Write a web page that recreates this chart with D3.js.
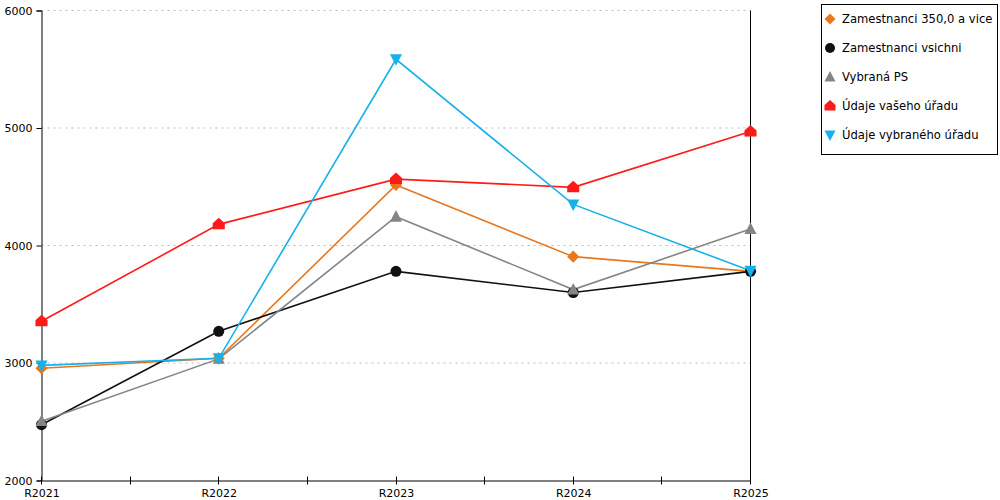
<!DOCTYPE html>
<html><head><meta charset="utf-8">
<script src="https://cdn.jsdelivr.net/npm/d3@7"></script>
<style>
body{margin:0;background:#fff;}
text{font-family:"DejaVu Sans",Verdana,sans-serif;font-size:11px;fill:#000;}
</style></head>
<body><svg id="c" width="1000" height="500"></svg>
<script>
const categories = ["R2021","R2022","R2023","R2024","R2025"];
const yTicks = [2000,3000,4000,5000,6000];
const seriesNames = ["Zamestnanci 350,0 a vice","Zamestnanci vsichni","Vybraná PS","Údaje vašeho úřadu","Údaje vybraného úřadu"];
const zam350 = [2955, 3040, 4515, 3905, 3780];
const zamVsichni = [2475, 3270, 3780, 3600, 3780];
const vybranaPS = [2505, 3035, 4245, 3625, 4140];
const vasUrad = [3355, 4180, 4565, 4495, 4970];
const vybranyUrad = [2980, 3040, 5585, 4350, 3785];
const colors = ["#e8771e","#111111","#858585","#ff1a1a","#16b1ea"];
const symbols = ["diamond","circle","triangle","house","triangleDown"];

const allSeries = [zam350, zamVsichni, vybranaPS, vasUrad, vybranyUrad];
const svg = d3.select("#c");
const L = 41.5, R = 750.5, T = 10.5, B = 480.5;
const x = d3.scalePoint().domain(categories).range([L, R]);
const y = d3.scaleLinear().domain([2000, 6000]).range([B, T]);

// grid
svg.append("g").selectAll("line").data(yTicks.filter(d => d > 2000)).join("line")
  .attr("x1", L).attr("x2", R).attr("y1", d => y(d)).attr("y2", d => y(d))
  .attr("stroke", "#bbb").attr("stroke-dasharray", "2,4").attr("stroke-width", 1);

// y axis
const yAxis = d3.axisLeft(y).tickValues(yTicks).tickSize(5).tickPadding(4).tickFormat(d3.format("d"));
const gy = svg.append("g").attr("transform", `translate(${L},0)`).call(yAxis);
gy.select(".domain").attr("stroke", "#000");
gy.selectAll("text").style("font-family", "DejaVu Sans").style("font-size", "11px");

// right line
svg.append("line").attr("x1", R).attr("x2", R).attr("y1", T).attr("y2", B).attr("stroke", "#000");

// x axis
const xAxis = d3.axisBottom(x).tickSize(0).tickPadding(9);
const gx = svg.append("g").attr("transform", `translate(0,${B})`).call(xAxis);
gx.select(".domain").attr("stroke", "#000");
gx.selectAll("text").style("font-family", "DejaVu Sans").style("font-size", "11px");
// ticks at categories and between, crossing the axis
const step = x.step();
const tickPos = [];
categories.forEach((c, i) => { tickPos.push(x(c)); if (i < categories.length - 1) tickPos.push(x(c) + step / 2); });
svg.append("g").selectAll("line").data(tickPos).join("line")
  .attr("x1", d => Math.round(d - 0.5) + 0.5).attr("x2", d => Math.round(d - 0.5) + 0.5)
  .attr("y1", B - 4).attr("y2", B + 4).attr("stroke", "#000");

function marker(g, type, color, s) {
  if (type === "circle") g.append("circle").attr("r", s * 0.5).attr("fill", color);
  else if (type === "diamond") g.append("path").attr("d", `M0,${-s*0.55}L${s*0.55},0L0,${s*0.55}L${-s*0.55},0Z`).attr("fill", color);
  else if (type === "triangle") g.append("path").attr("d", `M0,${-s*0.6}L${s*0.55},${s*0.45}L${-s*0.55},${s*0.45}Z`).attr("fill", color);
  else if (type === "triangleDown") g.append("path").attr("d", `M0,${s*0.6}L${s*0.55},${-s*0.45}L${-s*0.55},${-s*0.45}Z`).attr("fill", color);
  else if (type === "house") g.append("path").attr("d", `M0,${-s*0.6}L${s*0.55},${-s*0.1}L${s*0.55},${s*0.45}L${-s*0.55},${s*0.45}L${-s*0.55},${-s*0.1}Z`).attr("fill", color);
}

const line = d3.line().x((d, i) => x(categories[i])).y(d => y(d));
allSeries.forEach((vals, si) => {
  svg.append("path").attr("d", line(vals)).attr("fill", "none")
    .attr("stroke", colors[si]).attr("stroke-width", 1.6);
});
allSeries.forEach((vals, si) => {
  vals.forEach((v, i) => {
    const g = svg.append("g").attr("transform", `translate(${x(categories[i])},${y(v)})`);
    marker(g, symbols[si], colors[si], 11);
  });
});

// legend
const lg = svg.append("g");
lg.append("rect").attr("x", 821.5).attr("y", 4.5).attr("width", 176).attr("height", 150)
  .attr("fill", "#fff").attr("stroke", "#000");
seriesNames.forEach((n, i) => {
  const yy = 19 + i * 29;
  const g = lg.append("g").attr("transform", `translate(830,${yy})`);
  marker(g, symbols[i], colors[i], 10);
  lg.append("text").attr("x", 842).attr("y", yy).attr("dy", "0.35em").style("font-size", "11.6px").text(n);
});
</script></body></html>
